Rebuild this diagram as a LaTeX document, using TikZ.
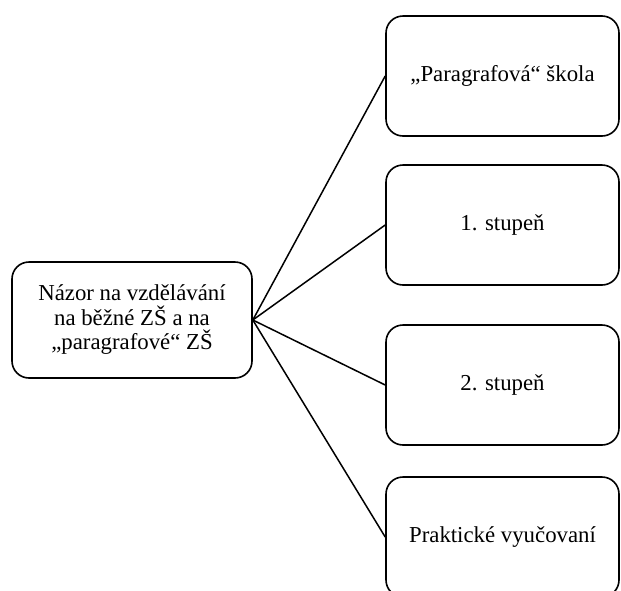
\documentclass[tikz,border=0pt]{standalone}
\usepackage{fontspec}
\setmainfont{Liberation Serif}
\begin{document}
\begin{tikzpicture}[x=1pt,y=-1pt,
  box/.style={draw=black,line width=1.6pt,rounded corners=17pt,minimum width=233pt,minimum height=120pt,inner sep=0pt,align=center,font=\fontsize{22.8}{24.5}\selectfont},
  conn/.style={draw=black,line width=1.5pt}]
\useasboundingbox (0,0) rectangle (621,590);
\node[box,minimum width=240pt,minimum height=116pt] (main) at (132,320) {Názor na vzdělávání\\na běžné ZŠ a na\\„paragrafové“ ZŠ};
\node[box] (b1) at (502.5,76) {„Paragrafová“ škola};
\node[box] (b2) at (502.5,225) {1. stupeň};
\node[box] (b3) at (502.5,385) {2. stupeň};
\node[box] (b4) at (502.5,537) {Praktické vyučovaní};
\draw[conn] (main.east) -- (b1.west);
\draw[conn] (main.east) -- (b2.west);
\draw[conn] (main.east) -- (b3.west);
\draw[conn] (main.east) -- (b4.west);
\end{tikzpicture}
\end{document}
